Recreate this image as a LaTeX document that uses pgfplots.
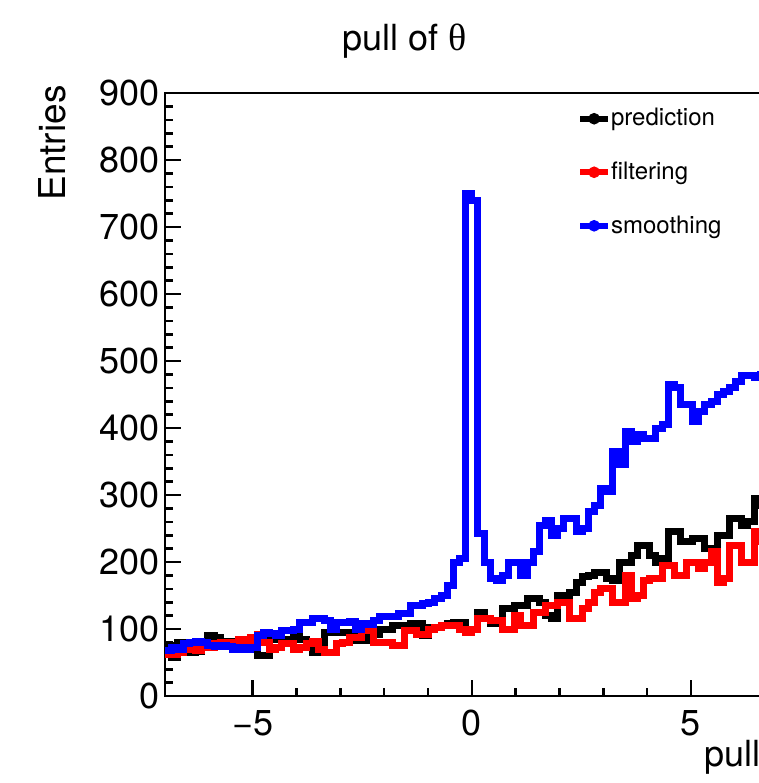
\documentclass[border=0pt]{standalone}
\usepackage{fontspec}
\setmainfont{TeX Gyre Heros}
\newfontfamily\symfont{Liberation Serif}
\usepackage{pgfplots}
\pgfplotsset{compat=1.18}
\usepackage{pgfplotstable}

% bins of width 0.14 from -7 to 7; last row repeats bin 99 to close the step
\pgfplotstableread{
i pred filt smooth
0 75 62 68
1 58 62 72
2 80 65 70
3 78 70 78
4 65 72 80
5 66 68 82
6 75 75 80
7 90 72 76
8 88 78 74
9 75 80 75
10 82 76 74
11 80 80 70
12 70 84 72
13 70 80 70
14 72 88 72
15 60 92 90
16 60 80 95
17 85 70 94
18 85 72 90
19 85 78 98
20 85 78 98
21 90 70 100
22 85 72 110
23 80 78 110
24 65 82 115
25 66 70 116
26 95 65 112
27 95 65 100
28 95 78 110
29 95 80 110
30 92 88 111
31 83 88 100
32 83 98 108
33 88 100 107
34 92 80 112
35 100 80 118
36 100 80 118
37 105 75 118
38 105 75 123
39 105 98 123
40 108 98 135
41 108 92 135
42 90 92 138
43 102 100 140
44 102 102 145
45 105 105 150
46 108 105 165
47 110 105 200
48 110 100 205
49 100 95 750
50 100 100 740
51 125 115 243
52 115 115 200
53 108 112 175
54 108 112 172
55 130 100 180
56 130 100 200
57 135 120 200
58 135 105 180
59 145 105 200
60 145 125 215
61 140 125 255
62 120 135 262
63 115 135 240
64 150 140 250
65 150 140 265
66 155 115 265
67 170 115 245
68 178 130 250
69 180 140 275
70 185 155 285
71 185 160 310
72 175 160 305
73 172 140 365
74 200 140 345
75 200 180 395
76 210 145 380
77 225 150 390
78 225 172 385
79 210 175 385
80 200 175 400
81 205 195 405
82 245 195 465
83 245 180 460
84 230 180 435
85 230 200 435
86 235 200 410
87 235 190 425
88 220 200 435
89 220 215 440
90 240 170 450
91 240 175 455
92 265 225 460
93 265 225 470
94 255 200 478
95 260 200 478
96 295 245 475
97 285 230 480
98 280 235 485
99 290 240 490
100 290 240 490
}\pulltheta

\begin{document}
\begin{tikzpicture}
\useasboundingbox (0pt,0pt) rectangle (379.5pt,391.5pt);
\clip (0pt,0pt) rectangle (379.5pt,391.5pt);
\begin{axis}[
  at={(82.5pt,43.5pt)}, anchor=south west,
  scale only axis, width=306.8pt, height=301.5pt,
  xmin=-7, xmax=7, ymin=0, ymax=900,
  axis line style={line width=1.3pt},
  every tick/.style={black, line width=1.3pt},
  tick align=inside, tick pos=left,
  xtick={-5,0,5}, xticklabels={−5,0,5},
  minor x tick num=4,
  ytick={0,100,200,300,400,500,600,700,800,900},
  yticklabels={0,100,200,300,400,500,600,700,800,900},
  minor y tick num=4,
  major tick length=8pt, minor tick length=4pt,
  ticklabel style={font=\fontsize{18}{20}\selectfont},
  xticklabel style={inner sep=0pt, yshift=-7pt},
  yticklabel style={inner sep=0pt, xshift=-2.5pt},
  legend style={draw=none, fill=none, at={(rel axis cs:0.671,0.975)}, anchor=north west,
    inner sep=0pt, row sep=16.5pt, column sep=0pt,
    font=\fontsize{12}{14}\selectfont, nodes={inner sep=0pt}},
  legend cell align=left,
]
\addplot[const plot, black, line width=3.5pt, forget plot] table[x expr={-7+0.14*\coordindex}, y=pred] {\pulltheta};
\addplot[const plot, red, line width=3.5pt, forget plot] table[x expr={-7+0.14*\coordindex}, y=filt] {\pulltheta};
\addplot[const plot, blue, line width=3.5pt, forget plot] table[x expr={-7+0.14*\coordindex}, y=smooth] {\pulltheta};

\addlegendimage{legend image code/.code={\draw[black, line width=3pt] (0pt,0pt) -- (14pt,0pt); \fill[black] (7pt,0pt) circle (2.7pt);}}
\addlegendentry{prediction}
\addlegendimage{legend image code/.code={\draw[red, line width=3pt] (0pt,0pt) -- (14pt,0pt); \fill[red] (7pt,0pt) circle (2.7pt);}}
\addlegendentry{filtering}
\addlegendimage{legend image code/.code={\draw[blue, line width=3pt] (0pt,0pt) -- (14pt,0pt); \fill[blue] (7pt,0pt) circle (2.7pt);}}
\addlegendentry{smoothing}
\end{axis}
\node[anchor=base, inner sep=0pt, font=\fontsize{18}{20}\selectfont] at (202.5pt,366pt) {pull of {\symfont\fontsize{19}{20}\selectfont θ}};
\node[rotate=90, anchor=east, inner sep=0pt, font=\fontsize{18.5}{20}\selectfont] at (26pt,349pt) {Entries};
\node[anchor=north west, inner sep=0pt, font=\fontsize{18}{20}\selectfont] at (352pt,21.5pt) {pull};
\end{tikzpicture}
\end{document}
